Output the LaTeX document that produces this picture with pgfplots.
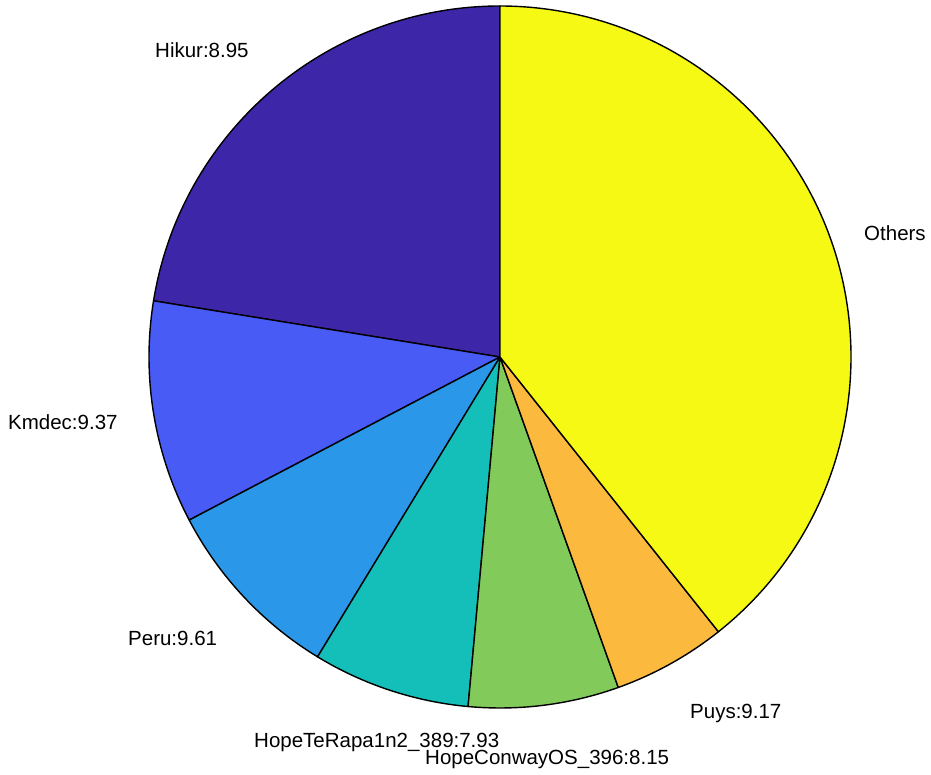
\documentclass[border=0pt]{standalone}
\usepackage{pgfplots}
\usepackage{pgfplotstable}
\usepackage{fontspec}
\setmainfont{Liberation Sans}
\pgfplotsset{compat=1.18}
\definecolor{c0}{HTML}{3D27A8}
\definecolor{c1}{HTML}{485BF5}
\definecolor{c2}{HTML}{2A97E8}
\definecolor{c3}{HTML}{14BFB9}
\definecolor{c4}{HTML}{82CB5A}
\definecolor{c5}{HTML}{FBB93D}
\definecolor{c6}{HTML}{F5F914}
\pgfplotstableread{
name pct
Hikur 22.44
Kmdec 10.25
Peru 8.61
HopeTeRapa 7.25
HopeConwayOS 6.92
Puys 5.22
Others 39.31
}\piedata
\begin{document}
\begin{tikzpicture}
\begin{axis}[x=1pt,y=1pt,xmin=0,xmax=931,ymin=0,ymax=774,
  hide axis, clip=false, scale only axis]
\path (axis cs:0,0) rectangle (axis cs:931,774);
\xdef\curang{90}
\foreach \i in {0,...,6}{%
  \pgfplotstablegetelem{\i}{pct}\of\piedata
  \pgfmathsetmacro{\endang}{\curang+3.6*\pgfplotsretval}%
  \edef\slice{\noexpand\draw[fill=c\i, draw=black, line width=1.4pt, line join=round]
    (axis cs:500,417) -- ++(\curang:351pt) arc[start angle=\curang, end angle=\endang, radius=351pt] -- cycle;}%
  \slice
  \xdef\curang{\endang}%
}
\begin{scope}[every node/.style={font=\fontsize{20.5}{24}\selectfont, inner sep=0pt}]
\node[anchor=west] at (axis cs:155,724) {Hikur:8.95};
\node[anchor=west] at (axis cs:8,352) {Kmdec:9.37};
\node[anchor=west] at (axis cs:128,136) {Peru:9.61};
\node[anchor=west] at (axis cs:254,32) {HopeTeRapa1n2\_389:7.93};
\node[anchor=west] at (axis cs:425,15) {HopeConwayOS\_396:8.15};
\node[anchor=west] at (axis cs:690,61) {Puys:9.17};
\node[anchor=west] at (axis cs:864,541) {Others};
\end{scope}
\end{axis}
\end{tikzpicture}
\end{document}
